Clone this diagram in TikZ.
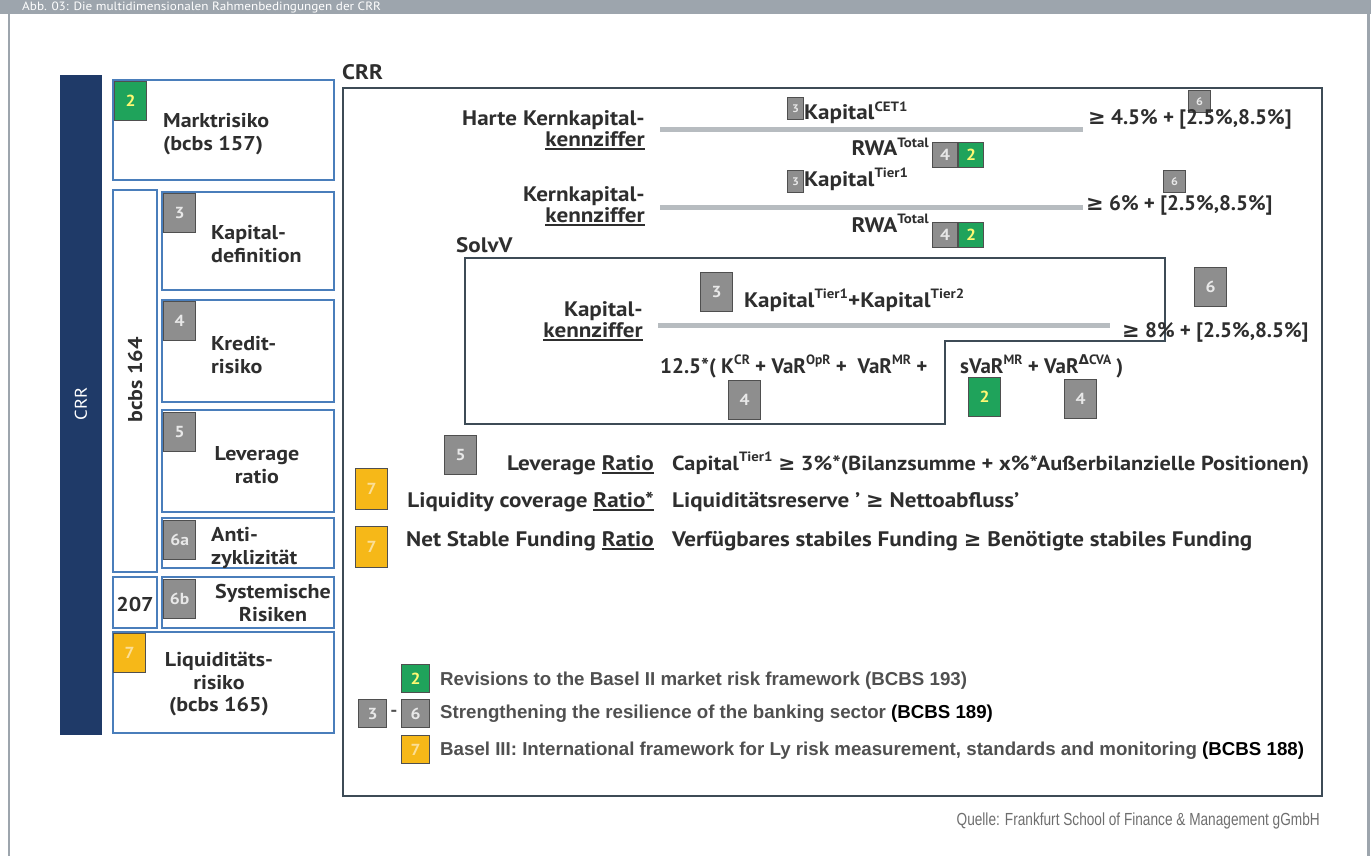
\documentclass[tikz,border=0pt]{standalone}
\usepackage{fontspec}
\setmainfont{PT Sans}[FakeStretch=1.1]
\newfontfamily\plainf{PT Sans}
\newfontfamily\symf{DejaVu Sans}
\newfontfamily\legf{Liberation Sans}
\newfontfamily\srcf{Liberation Sans}[FakeStretch=0.78]
\usepackage{tikz}
\usetikzlibrary{positioning}
\definecolor{crrnavy}{HTML}{1F3A68}
\definecolor{boxblue}{HTML}{4A7EBB}
\definecolor{framegray}{HTML}{9DA5AD}
\definecolor{txt}{HTML}{2E2E2E}
\definecolor{taggray}{HTML}{8E8E8E}
\definecolor{tagedge}{HTML}{4F4F4F}
\definecolor{taggreen}{HTML}{1FA35B}
\definecolor{tagyellow}{HTML}{F6B818}
\definecolor{fracgray}{HTML}{B7BCC0}
\definecolor{crredge}{HTML}{3D4B56}
\definecolor{leggray}{HTML}{505050}
\definecolor{srcgray}{HTML}{6E6E6E}

\newcommand\sups[1]{\raisebox{.4em}{\fontsize{13.5}{13.5}\selectfont #1}}
\newcommand\undl[1]{\setbox0=\hbox{#1}\rlap{\rule[-3.5pt]{\wd0}{1.8pt}}\box0}
\newcommand\gesym{{\symf ≥}}

\tikzset{
  lbox/.style={draw=boxblue, line width=1.6pt},
  tag/.style={draw=tagedge, fill=taggray, text=white!80!taggray, line width=1.3pt,
    inner sep=0pt, anchor=north west, font=\bfseries\fontsize{16}{16}\selectfont},
  greentag/.style={tag, fill=taggreen, text=yellow!55!white},
  yellowtag/.style={tag, fill=tagyellow, text=tagyellow!45!white},
  bigtag/.style={minimum width=32pt, minimum height=39pt},
  midtag/.style={minimum width=25pt, minimum height=25pt},
  smalltag/.style={minimum width=16pt, minimum height=22pt, font=\bfseries\fontsize{11}{11}\selectfont},
  legtag/.style={minimum width=28pt, minimum height=28pt},
  lbl/.style={text=txt, font=\bfseries\fontsize{20}{22.5}\selectfont, inner sep=0pt},
  rlbl/.style={text=txt, font=\bfseries\fontsize{21}{21}\selectfont, inner sep=0pt},
  row/.style={text=txt, font=\bfseries\fontsize{21}{21}\selectfont, inner sep=0pt},
  frm/.style={text=txt, font=\plainf\bfseries\fontsize{21}{21}\selectfont, inner sep=0pt},
  fracline/.style={fracgray, line width=5pt},
  leg/.style={text=leggray, font=\legf\bfseries\fontsize{18.7}{18.7}\selectfont, inner sep=0pt, anchor=base west},
}

\begin{document}
\begin{tikzpicture}[x=1pt,y=-1pt]
\useasboundingbox (0,0) rectangle (1371,856);
% frame
\fill[framegray] (0,0) rectangle (1371,14);
\fill[framegray] (8,14) rectangle (10,856);
\fill[framegray] (1367,14) rectangle (1370,856);
\node[anchor=base west, text=white, font=\fontsize{12}{12}\selectfont, inner sep=0pt] (title) at (22,11)
  {Abb. 03: Die multidimensionalen Rahmenbedingungen der CRR};

% left column
\fill[crrnavy] (60,75) rectangle (102,735);
\node[rotate=90, text=white, font=\fontsize{17}{17}\selectfont] (crrv) at (81,404) {CRR};

\draw[lbox] (113,80) rectangle (334,180);
\node[greentag, bigtag] (mrtag) at (114,81) {2};
\node[lbl, anchor=west, align=left] (markt) at (163,134) {Marktrisiko\\(bcbs 157)};

\draw[lbox] (113,190) rectangle (157,572);
\node[lbl, rotate=90] (bcbs) at (135,380) {bcbs 164};

\draw[lbox] (162,192) rectangle (334,290);
\node[tag, bigtag] (kdtag) at (163,193) {3};
\node[lbl, anchor=west, align=left] (kapdef) at (211,244) {Kapital-\\definition};

\draw[lbox] (162,300) rectangle (334,402);
\node[tag, bigtag] (krtag) at (163,301) {4};
\node[lbl, anchor=west, align=left] (kredit) at (211,355) {Kredit-\\risiko};

\draw[lbox] (162,410) rectangle (334,512);
\node[tag, bigtag] (lvtag) at (163,412) {5};
\node[lbl, align=center] (lever) at (257,465) {Leverage\\ratio};

\draw[lbox] (162,518) rectangle (334,568);
\node[tag, bigtag] (aztag) at (163,520) {6a};
\node[lbl, anchor=west, align=left] (anti) at (211,548) {Anti-\\zyklizität};

\draw[lbox] (113,577) rectangle (157,628);
\node[lbl] (n207) at (135,604) {207};
\draw[lbox] (162,577) rectangle (334,628);
\node[tag, bigtag] (sytag) at (163,579) {6b};
\node[lbl, align=center] (syst) at (273,603) {Systemische\\Risiken};

\draw[lbox] (113,632) rectangle (334,733);
\node[yellowtag, bigtag] (lqtag) at (113,633) {7};
\node[lbl, align=center] (liqu) at (219,684) {Liquiditäts-\\risiko\\(bcbs 165)};

% CRR panel
\node[row, anchor=base west] (crrh) at (342,80) {CRR};
\draw[crredge, line width=2pt] (343,88) rectangle (1322,796);

% Harte Kernkapitalkennziffer
\node[rlbl, anchor=east, align=right] (hkk) at (645,130) {Harte Kernkapital-\\\undl{kennziffer}};
\draw[fracline] (660,130) -- (1083,130);
\node[tag, smalltag] (hk3) at (787,97) {3};
\node[row, anchor=base west] (hkz) at (804,120) {Kapital\sups{CET1}};
\node[tag, smalltag, minimum width=22pt] (hk6) at (1188,90) {6};
\node[frm, anchor=base west] (hkq) at (1088,125) {\gesym{} 4.5\% + [2.5\%,8.5\%]};
\node[row, anchor=base east] (hkn) at (929,156) {RWA\sups{Total}};
\node[tag, midtag] (hk4) at (932,142) {4};
\node[greentag, midtag] (hk2) at (958,142) {2};

% Kernkapitalkennziffer
\node[rlbl, anchor=east, align=right] (kk) at (645,206) {Kernkapital-\\\undl{kennziffer}};
\draw[fracline] (660,207) -- (1083,207);
\node[tag, smalltag] (kk3) at (787,170) {3};
\node[row, anchor=base west] (kkz) at (804,186) {Kapital\sups{Tier1}};
\node[tag, smalltag, minimum width=22pt] (kk6) at (1163,170) {6};
\node[frm, anchor=base west] (kkq) at (1086,210) {\gesym{} 6\% + [2.5\%,8.5\%]};
\node[row, anchor=base east] (kkn) at (929,232) {RWA\sups{Total}};
\node[tag, midtag] (kk4) at (932,222) {4};
\node[greentag, midtag] (kk2) at (958,222) {2};

% SolvV
\node[row, anchor=base west] (solvv) at (456,252) {SolvV};
\draw[crredge, line width=2pt] (465,258) -- (1165,258) -- (1165,341) -- (945,341) -- (945,424) -- (465,424) -- cycle;
\node[rlbl, anchor=east, align=right] (gk) at (643,321) {Kapital-\\\undl{kennziffer}};
\node[tag, bigtag] (gk3) at (700,272) {3};
\node[row, anchor=base west] (gkz) at (744,307) {Kapital\sups{Tier1}+Kapital\sups{Tier2}};
\draw[fracline] (658,325) -- (1110,325);
\node[tag, bigtag] (gk6) at (1194,267) {6};
\node[frm, anchor=base west] (gkq) at (1122,337) {\gesym{} 8\% + [2.5\%,8.5\%]};
\node[frm, anchor=base west] (gkn) at (660,373) {12.5*( K\sups{CR} + VaR\sups{OpR} + \ VaR\sups{MR} +};
\node[frm, anchor=base west] (gkm) at (960,373) {sVaR\sups{MR} + VaR\sups{{\symf Δ}CVA} )};
\node[tag, bigtag] (gk4) at (728,380) {4};
\node[greentag, bigtag] (gk2) at (968,377) {2};
\node[tag, bigtag] (gk4b) at (1064,379) {4};

% ratios
\node[tag, bigtag] (lr5) at (444,435) {5};
\node[row, anchor=base east] (lrn) at (654,470) {Leverage \undl{Ratio}};
\node[row, anchor=base west, font=\bfseries\fontsize{20.3}{21}\selectfont] (lrf) at (672,470)
  {Capital\sups{Tier1} \gesym{} 3\%*(Bilanzsumme + x\%*Außerbilanzielle Positionen)};
\node[yellowtag, bigtag, minimum height=41pt] (lc7) at (355,468) {7};
\node[row, anchor=base east] (lcn) at (654,507) {Liquidity coverage \undl{Ratio*}};
\node[row, anchor=base west] (lcf) at (672,507) {Liquiditätsreserve ' \gesym{} Nettoabfluss'};
\node[yellowtag, bigtag, minimum height=41pt] (ns7) at (355,526) {7};
\node[row, anchor=base east] (nsn) at (654,546) {Net Stable Funding \undl{Ratio}};
\node[row, anchor=base west] (nsf) at (672,546) {Verfügbares stabiles Funding \gesym{} Benötigte stabiles Funding};

% legend
\node[greentag, legtag] (lg2) at (401,664) {2};
\node[leg] (lgr) at (440,685) {Revisions to the Basel II market risk framework (BCBS 193)};
\node[tag, legtag] (lg3) at (358,699) {3};
\node[text=leggray, font=\bfseries\fontsize{18}{18}\selectfont, inner sep=0pt] (lgd) at (394,713) {-};
\node[tag, legtag] (lg6) at (401,699) {6};
\node[leg] (lgs) at (440,718) {Strengthening the resilience of the banking sector \textcolor{black}{(BCBS 189)}};
\node[yellowtag, legtag] (lg7) at (401,735) {7};
\node[leg] (lgb) at (440,755) {Basel III: International framework for Ly risk measurement, standards and monitoring \textcolor{black}{(BCBS 188)}};

\node[anchor=base east, text=srcgray, font=\srcf\fontsize{17.5}{17.5}\selectfont, inner sep=0pt] (src) at (1320,825)
  {Quelle: Frankfurt School of Finance \& Management gGmbH};
\end{tikzpicture}
\end{document}
